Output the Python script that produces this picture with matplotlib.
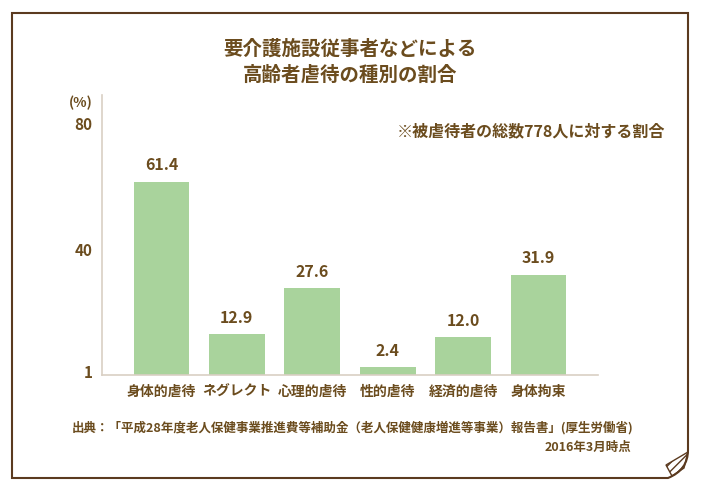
import matplotlib.pyplot as plt
from matplotlib.patches import Polygon
from matplotlib.path import Path
from matplotlib.patches import PathPatch

plt.rcParams['font.family'] = ['Noto Sans CJK JP', 'DejaVu Sans']

# data
categories = ['身体的虐待', 'ネグレクト', '心理的虐待', '性的虐待', '経済的虐待', '身体拘束']
values = [61.4, 12.9, 27.6, 2.4, 12.0, 31.9]
yticks = [1, 40, 80]

title = '要介護施設従事者などによる\n高齢者虐待の種別の割合'
note = '※被虐待者の総数778人に対する割合'
source = '出典：「平成28年度老人保健事業推進費等補助金（老人保健健康増進等事業）報告書」(厚生労働省)'
date_note = '2016年3月時点'

text_color = '#6b4c1e'
bar_color = '#a9d39c'
border_color = '#5b3a1f'
W, H = 701, 487


def fx(x):
    return x / W


def fy(y):
    return 1 - y / H


fig = plt.figure(figsize=(W / 100, H / 100), dpi=100)

# hand-drawn style frame with curled corner
frame = Path([(fx(12), fy(13)), (fx(688), fy(13)), (fx(688), fy(450)),
              (fx(688), fy(470)), (fx(668), fy(478)), (fx(12), fy(478)),
              (fx(12), fy(13))],
             [Path.MOVETO, Path.LINETO, Path.LINETO, Path.CURVE3, Path.CURVE3,
              Path.LINETO, Path.CLOSEPOLY])
fig.patches.append(PathPatch(frame, transform=fig.transFigure, fill=False,
                             edgecolor=border_color, linewidth=1.5))
fig.patches.append(Polygon([(fx(666), fy(465)), (fx(688), fy(452)), (fx(684), fy(468)),
                            (fx(672), fy(476))], closed=True, transform=fig.transFigure,
                           facecolor='none', edgecolor=border_color, hatch='////',
                           linewidth=1.0))

ax = fig.add_axes([fx(102), fy(375), fx(598) - fx(102), fy(95) - fy(375)])
x = range(len(categories))
bars = ax.bar(x, values, width=0.74, color=bar_color, edgecolor='none')
for xi, v in zip(x, values):
    ax.annotate(f'{v:.1f}', (xi, v), xytext=(0, 6), textcoords='offset points',
                ha='center', va='bottom', fontsize=11.5, color=text_color,
                fontweight='bold')

ax.set_xlim(-0.79, len(categories) - 0.21)
ax.set_ylim(0, 89)
ax.set_yticks(yticks)
ax.set_yticklabels([str(t) for t in yticks])
ax.set_xticks(list(x))
ax.set_xticklabels(categories)
ax.tick_params(axis='both', length=0, colors=text_color)
ax.tick_params(axis='y', pad=7, labelsize=11)
ax.tick_params(axis='x', pad=7, labelsize=10)
for lab in ax.get_xticklabels() + ax.get_yticklabels():
    lab.set_fontweight('bold')
for side in ['top', 'right']:
    ax.spines[side].set_visible(False)
for side in ['left', 'bottom']:
    ax.spines[side].set_color('#d9cfc3')
    ax.spines[side].set_linewidth(1.2)

fig.text(fx(350), fy(62), title, ha='center', va='center', fontsize=14,
         color=text_color, fontweight='bold', linespacing=1.5)
fig.text(fx(93), fy(103), '(%)', ha='right', va='center', fontsize=10,
         color=text_color, fontweight='bold')
fig.text(fx(665), fy(131), note, ha='right', va='center', fontsize=11.5,
         color=text_color, fontweight='bold')
fig.text(fx(72), fy(428), source, ha='left', va='center', fontsize=9,
         color=text_color, fontweight='bold')
fig.text(fx(631), fy(447), date_note, ha='right', va='center', fontsize=9,
         color=text_color, fontweight='bold')

fig.savefig('out.png', dpi=100)
